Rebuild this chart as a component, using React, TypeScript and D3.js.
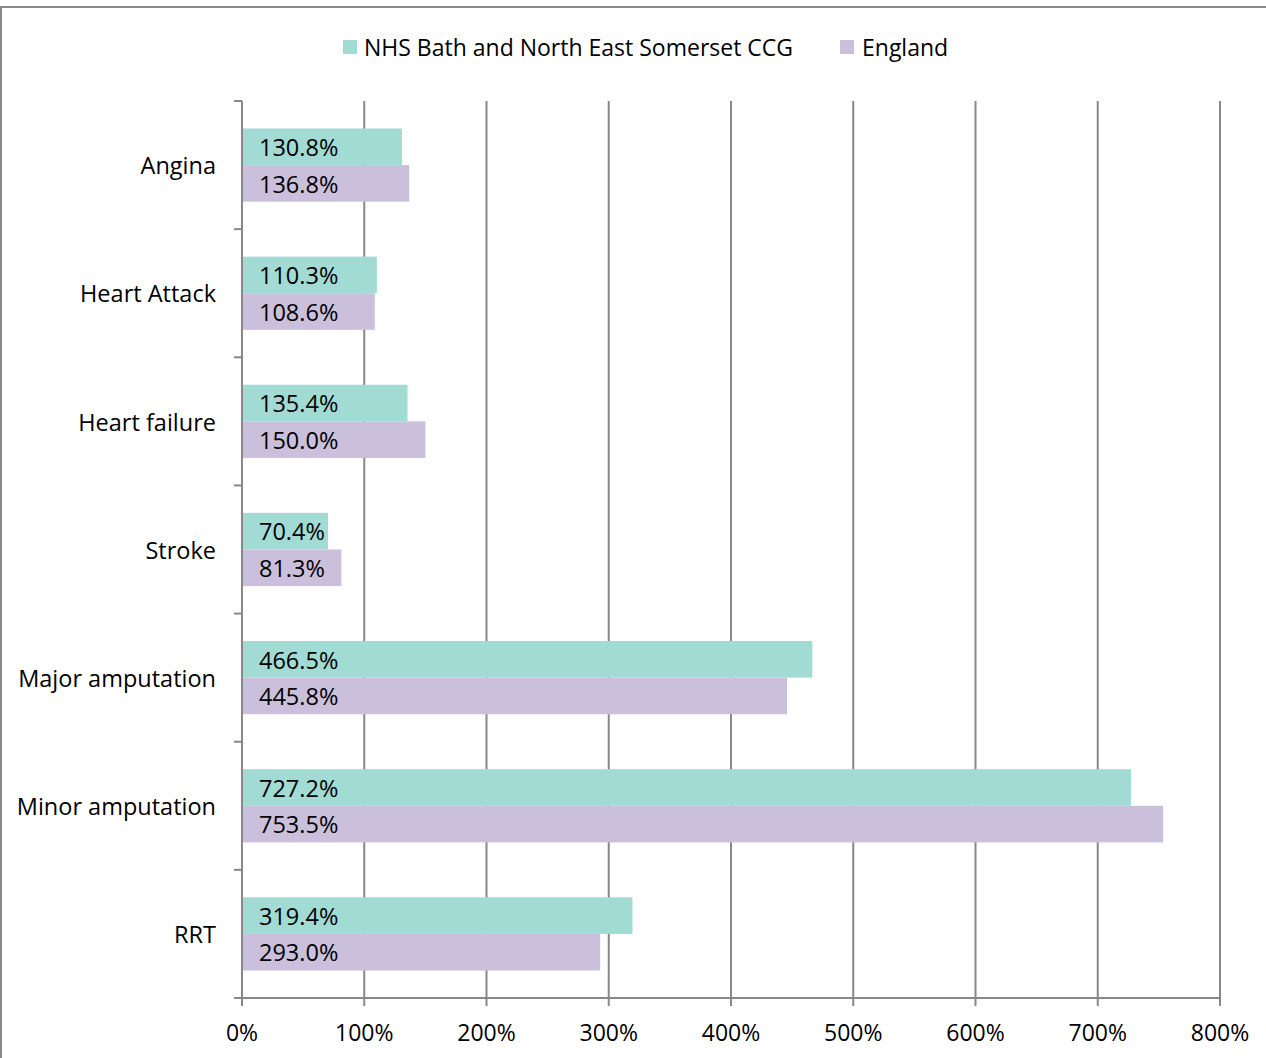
import React from "react";
import * as d3 from "d3";

const categories = ["Angina", "Heart Attack", "Heart failure", "Stroke", "Major amputation", "Minor amputation", "RRT"];
const seriesNames = ["NHS Bath and North East Somerset CCG", "England"];
const ccgValues = [130.8, 110.3, 135.4, 70.4, 466.5, 727.2, 319.4];
const englandValues = [136.8, 108.6, 150.0, 81.3, 445.8, 753.5, 293.0];
const xTicks = [0, 100, 200, 300, 400, 500, 600, 700, 800];
const colors = ["#a2dbd4", "#cbc0dc"];

const W = 1266, H = 1058;
const left = 242, right = 1220, top = 101, bottom = 998;
const FONT = "'Open Sans', sans-serif";

export default function App() {
  const x = d3.scaleLinear().domain([0, 800]).range([left, right]);
  const y = d3.scaleBand<string>().domain(categories).range([top, bottom]);
  const step = y.step();
  const barH = step / 3.5;
  const series = [ccgValues, englandValues];
  const boundaries = d3.range(categories.length + 1).map((i) => top + i * step);

  return (
    <svg width={W} height={H} style={{ position: "absolute", left: 0, top: 0, background: "#fff" }} fontFamily={FONT}>
      <rect x={1} y={7} width={W + 10} height={H + 10} fill="#fff" stroke="#888" strokeWidth={2} />
      {/* gridlines */}
      {xTicks.map((t) => (
        <line key={"g" + t} x1={x(t)} x2={x(t)} y1={top} y2={bottom + 8} stroke="#888" strokeWidth={2} />
      ))}
      {/* category ticks */}
      {boundaries.map((b, i) => (
        <line key={"c" + i} x1={left - 8} x2={left} y1={b} y2={b} stroke="#888" strokeWidth={2} />
      ))}
      {/* bars */}
      {categories.map((c, i) => {
        const y0 = (y(c) as number) + (step - 2 * barH) / 2;
        return series.map((s, k) => (
          <g key={c + k}>
            <rect x={x(0)} y={y0 + k * barH} width={x(s[i]) - x(0)} height={barH} fill={colors[k]} />
            <text x={x(0) + 17} y={y0 + k * barH + barH / 2 + 1} dy="0.35em" fontSize={23.5} fill="#000">
              {s[i].toFixed(1) + "%"}
            </text>
          </g>
        ));
      })}
      {/* axes */}
      <line x1={left} x2={left} y1={top} y2={bottom} stroke="#888" strokeWidth={2} />
      <line x1={left - 8} x2={right} y1={bottom} y2={bottom} stroke="#888" strokeWidth={2} />
      {xTicks.map((t) => (
        <text key={"t" + t} x={x(t)} y={1033} dy="0.35em" textAnchor="middle" fontSize={23} fill="#000">
          {t + "%"}
        </text>
      ))}
      {categories.map((c) => (
        <text key={"l" + c} x={216} y={(y(c) as number) + step / 2 + 1} dy="0.35em" textAnchor="end" fontSize={23.5} fill="#000">
          {c}
        </text>
      ))}
      {/* legend */}
      <rect x={343} y={40} width={14} height={14} fill={colors[0]} />
      <text x={364} y={48} dy="0.35em" fontSize={23} fill="#000">{seriesNames[0]}</text>
      <rect x={840} y={40} width={14} height={14} fill={colors[1]} />
      <text x={862} y={48} dy="0.35em" fontSize={23} fill="#000">{seriesNames[1]}</text>
    </svg>
  );
}
